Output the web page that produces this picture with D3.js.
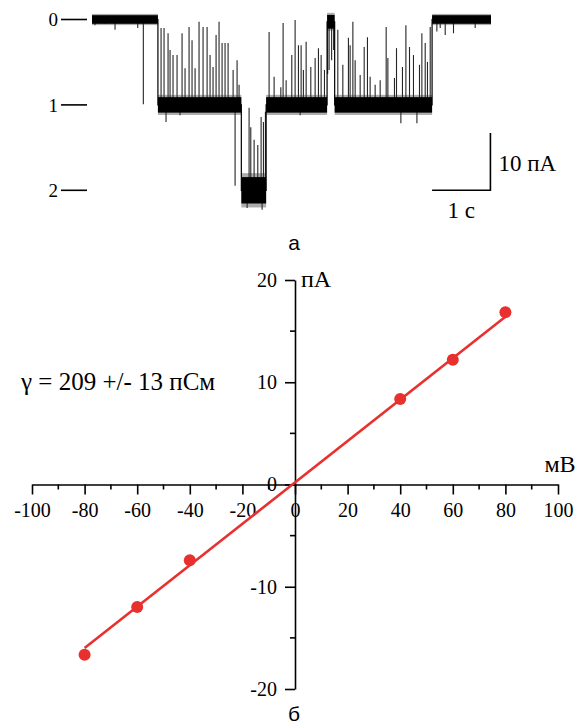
<!DOCTYPE html>
<html>
<head>
<meta charset="utf-8">
<script src="https://cdn.jsdelivr.net/npm/d3@7"></script>
<style>
body{margin:0;background:#fff;}
svg{display:block;}
</style>
</head>
<body>
<script>
// ---- panel a: single channel trace (time in s, current in pA) ----
var segStart = [0, 1.13, 2.56, 2.985, 4.03, 4.16, 5.83];
var segEnd   = [1.13, 2.56, 2.985, 4.03, 4.16, 5.83, 6.84];
var segLevel = [0, -14.9, -29.8, -14.9, -0.4, -14.9, 0];
var segNoise = [0.75, 1.35, 2.3, 1.35, 1.2, 1.35, 0.75];

// brief events: time and tip current
var spikeT = [0.051, 0.223, 0.395, 0.784, 0.880,
  1.184, 1.235, 1.269, 1.304, 1.338, 1.389, 1.458, 1.509, 1.544, 1.595, 1.664, 1.715, 1.767, 1.835, 1.904,
  1.973, 2.024, 2.075, 2.127, 2.178, 2.230, 2.281, 2.333, 2.419, 2.453, 2.487, 2.521,
  2.659, 2.693, 2.722, 2.779, 2.842, 2.899, 2.916, 2.939, 2.973,
  3.036, 3.122, 3.237, 3.276, 3.328, 3.425, 3.482, 3.539, 3.568, 3.585, 3.624, 3.671, 3.751, 3.825, 3.882, 3.928, 3.985,
  4.040, 4.065, 4.108, 4.142,
  4.214, 4.300, 4.396, 4.425, 4.472, 4.511, 4.597, 4.666, 4.722, 4.768, 4.854, 4.940, 5.043, 5.072, 5.185,
  5.220, 5.295, 5.322, 5.381, 5.443, 5.511, 5.570, 5.614, 5.655, 5.712, 5.751, 5.798,
  5.912, 5.969, 6.055, 6.197, 6.569];
var spikeI = [-1.0, -0.7, -1.8, -1.5, -14.8,
  -1.5, -1.5, -17.9, -2.4, -5.3, -6.2, -6.2, -16.7, -2.4, -8.5, -1.3, -3.6, -8.5, -0.4, -1.3,
  -1.3, -6.2, -8.3, -2.7, -0.4, -4.1, -4.1, -4.1, -8.8, -29.0, -7.1, -11.4,
  -32.9, -15.4, -18.8, -21.0, -21.9, -17.0, -33.2, -17.9, -16.1,
  -2.2, -10.0, -11.8, -0.6, -10.6, -6.2, -0.1, -4.5, -16.7, -4.5, -8.8, -3.9, -8.3, -6.7, -5.0, -6.2, -8.8,
  -9.5, -8.8, -7.1, -5.3,
  -1.8, -7.9, -3.2, -4.5, -0.4, -7.1, -9.7, -4.8, -3.1, -10.0, -11.4, -10.6, -1.3, -6.7, -10.2,
  -5.0, -18.1, -8.3, -1.0, -4.8, -6.2, -18.1, -7.9, -2.4, -4.1, -7.4, -1.3,
  -2.1, -1.5, -2.7, -2.4, -1.5];

var levelLabels = ["0", "1", "2"];
var levelValues = [0, -14.9, -29.8];
var barT = [5.83, 6.83];     // 1 s
var barI = [-29.8, -19.8];   // 10 pA

// ---- panel б: current-voltage relation ----
var voltage = [-80, -60, -40, 40, 60, 80];
var current = [-16.65, -11.97, -7.41, 8.36, 12.2, 16.85];
var currentErr = [0.45, 0.25, 0.3, 0.2, 0.2, 0.2];
var fitV = [-80, 80];
var fitI = [-16.0, 16.4];
var xTicks = [-100, -80, -60, -40, -20, 0, 20, 40, 60, 80, 100];
var xMinor = [-90, -70, -50, -30, -10, 10, 30, 50, 70, 90];
var yTicks = [-20, -10, 0, 10, 20];
var yMinor = [-15, -5, 5, 15];

var width = 587, height = 728;
var serif = "'Liberation Serif','Times New Roman',serif";
var sans = "'Liberation Sans',Arial,sans-serif";
var red = "#e8302f";

var svg = d3.select("body").append("svg")
  .attr("width", width)
  .attr("height", height);

// ===== trace =====
var xT = d3.scaleLinear().domain([0, 6.84]).range([92, 491]);
var yT = d3.scaleLinear().domain([0, -29.8]).range([19.5, 190.3]);

var trace = svg.append("g");

var segs = segStart.map(function(s, i){
  return {t0: s, t1: segEnd[i], lev: segLevel[i], noise: segNoise[i]};
});

function baseAt(t){
  for (var i = 0; i < segs.length; i++){
    if (t >= segs[i].t0 && t <= segs[i].t1) return segs[i].lev;
  }
  return 0;
}

// spikes
trace.selectAll("line.spike")
  .data(spikeT.map(function(t, i){ return {t: t, tip: spikeI[i]}; }))
  .enter().append("line")
  .attr("class", "spike")
  .attr("x1", function(d){ return xT(d.t); })
  .attr("x2", function(d){ return xT(d.t); })
  .attr("y1", function(d){ return yT(baseAt(d.t)); })
  .attr("y2", function(d){ return yT(d.tip); })
  .attr("stroke", "#262626")
  .attr("stroke-width", 1.1);

// outer fuzzy band
trace.selectAll("rect.fuzz")
  .data(segs)
  .enter().append("rect")
  .attr("class", "fuzz")
  .attr("x", function(d){ return xT(d.t0); })
  .attr("width", function(d){ return xT(d.t1) - xT(d.t0); })
  .attr("y", function(d){ return yT(d.lev + d.noise * 1.3); })
  .attr("height", function(d){ return yT(d.lev - d.noise * 1.3) - yT(d.lev + d.noise * 1.3); })
  .attr("fill", "#333")
  .attr("opacity", 0.4);

// dense noise band
trace.selectAll("rect.band")
  .data(segs)
  .enter().append("rect")
  .attr("class", "band")
  .attr("x", function(d){ return xT(d.t0); })
  .attr("width", function(d){ return xT(d.t1) - xT(d.t0); })
  .attr("y", function(d){ return yT(d.lev + d.noise); })
  .attr("height", function(d){ return yT(d.lev - d.noise) - yT(d.lev + d.noise); })
  .attr("fill", "#000");

// step line through levels
var stepData = [];
segs.forEach(function(d){
  stepData.push([d.t0, d.lev]);
  stepData.push([d.t1, d.lev]);
});
trace.append("path")
  .datum(stepData)
  .attr("fill", "none")
  .attr("stroke", "#000")
  .attr("stroke-width", 1.2)
  .attr("d", d3.line().x(function(d){ return xT(d[0]); }).y(function(d){ return yT(d[1]); }));

// level markers
var lev = trace.selectAll("g.lev")
  .data(levelValues)
  .enter().append("g")
  .attr("class", "lev");
lev.append("line")
  .attr("x1", 61).attr("x2", 87)
  .attr("y1", function(d){ return yT(d); })
  .attr("y2", function(d){ return yT(d); })
  .attr("stroke", "#000")
  .attr("stroke-width", 1.6);
lev.append("text")
  .attr("x", 58)
  .attr("y", function(d){ return yT(d); })
  .attr("dy", "0.35em")
  .attr("text-anchor", "end")
  .style("font-family", serif)
  .style("font-size", "19px")
  .text(function(d, i){ return levelLabels[i]; });

// scale bars
trace.append("path")
  .attr("fill", "none")
  .attr("stroke", "#000")
  .attr("stroke-width", 1.6)
  .attr("d", "M" + xT(barT[0]) + "," + yT(barI[0]) +
             "H" + xT(barT[1]) + "V" + yT(barI[1]));
trace.append("text")
  .attr("x", xT(barT[1]) + 8)
  .attr("y", yT((barI[0] + barI[1]) / 2) + 9)
  .style("font-family", serif)
  .style("font-size", "23px")
  .text("10 пА");
trace.append("text")
  .attr("x", xT((barT[0] + barT[1]) / 2))
  .attr("y", yT(barI[0]) + 28)
  .attr("text-anchor", "middle")
  .style("font-family", serif)
  .style("font-size", "23px")
  .text("1 с");

svg.append("text")
  .attr("x", 294).attr("y", 250)
  .attr("text-anchor", "middle")
  .style("font-family", sans)
  .style("font-size", "21px")
  .text("а");

// ===== I-V plot =====
var x = d3.scaleLinear().domain([-100, 100]).range([32, 558]);
var y = d3.scaleLinear().domain([-20, 20]).range([689, 280]);

var plot = svg.append("g");

var xAxis = plot.append("g")
  .attr("transform", "translate(0," + y(0) + ")")
  .call(d3.axisBottom(x).tickValues(xTicks).tickSize(10).tickSizeOuter(0).tickPadding(8)
    .tickFormat(function(d){ return String(d); }));
xAxis.selectAll(".minor")
  .data(xMinor)
  .enter().append("line")
  .attr("class", "minor")
  .attr("x1", function(d){ return x(d); })
  .attr("x2", function(d){ return x(d); })
  .attr("y1", 0).attr("y2", 5);

var yAxis = plot.append("g")
  .attr("transform", "translate(" + x(0) + ",0)")
  .call(d3.axisLeft(y).tickValues(yTicks).tickSize(10).tickSizeOuter(0).tickPadding(8)
    .tickFormat(function(d){ return String(d); }));
yAxis.selectAll(".minor")
  .data(yMinor)
  .enter().append("line")
  .attr("class", "minor")
  .attr("y1", function(d){ return y(d); })
  .attr("y2", function(d){ return y(d); })
  .attr("x1", 0).attr("x2", -5);

plot.selectAll(".domain, .tick line, .minor")
  .attr("stroke", "#000")
  .attr("stroke-width", 1.6);
plot.selectAll(".tick text")
  .attr("fill", "#000")
  .style("font-family", serif)
  .style("font-size", "20px");

// fit line
plot.append("line")
  .attr("x1", x(fitV[0])).attr("y1", y(fitI[0]))
  .attr("x2", x(fitV[1])).attr("y2", y(fitI[1]))
  .attr("stroke", red)
  .attr("stroke-width", 2.6);

// error bars
plot.selectAll("line.err")
  .data(voltage)
  .enter().append("line")
  .attr("class", "err")
  .attr("x1", function(d){ return x(d); })
  .attr("x2", function(d){ return x(d); })
  .attr("y1", function(d, i){ return y(current[i] - currentErr[i]); })
  .attr("y2", function(d, i){ return y(current[i] + currentErr[i]); })
  .attr("stroke", red)
  .attr("stroke-width", 2);

plot.selectAll("circle.pt")
  .data(voltage)
  .enter().append("circle")
  .attr("class", "pt")
  .attr("cx", function(d){ return x(d); })
  .attr("cy", function(d, i){ return y(current[i]); })
  .attr("r", 6)
  .attr("fill", red);

plot.append("text")
  .attr("x", x(0) + 6).attr("y", y(20) + 7)
  .style("font-family", serif)
  .style("font-size", "24px")
  .text("пА");
plot.append("text")
  .attr("x", x(100) + 2).attr("y", y(0) - 13)
  .attr("text-anchor", "middle")
  .style("font-family", serif)
  .style("font-size", "24px")
  .text("мВ");
plot.append("text")
  .attr("x", 21).attr("y", 390)
  .style("font-family", serif)
  .style("font-size", "25px")
  .text("γ = 209 +/- 13 пСм");

svg.append("text")
  .attr("x", 294).attr("y", 721)
  .attr("text-anchor", "middle")
  .style("font-family", sans)
  .style("font-size", "21px")
  .text("б");
</script>
</body>
</html>
